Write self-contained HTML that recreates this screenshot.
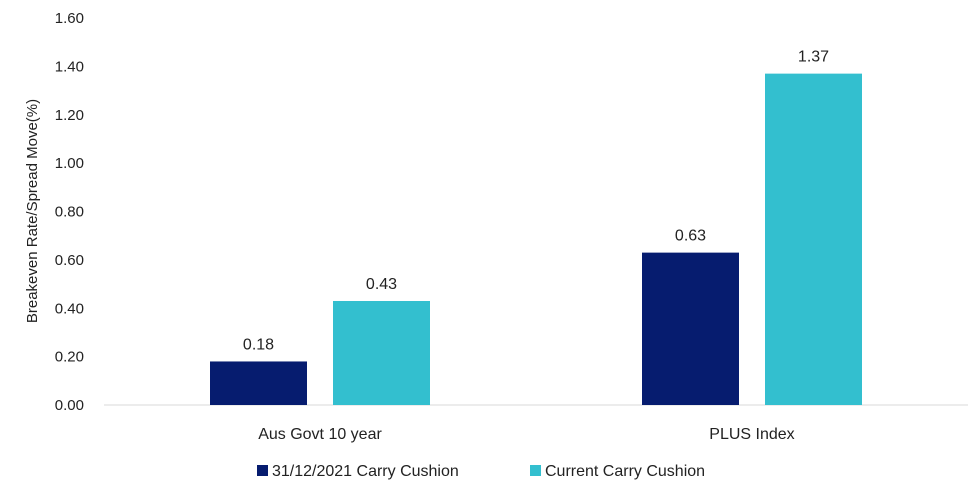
<!DOCTYPE html>
<html><head><meta charset="utf-8"><style>
body{margin:0;background:#fff;}
svg{display:block;font-family:"Liberation Sans",sans-serif;}
</style></head><body>
<svg id="chart" width="979" height="494">
<g id="grid"></g><g id="bars"></g><g id="labels"></g>
<text transform="translate(37,211) rotate(-90)" text-anchor="middle" font-size="15" fill="#222">Breakeven Rate/Spread Move(%)</text>
<g>
<rect x="257" y="465" width="11" height="11" fill="#061c6f"/>
<text x="272" y="476" font-size="16" fill="#222">31/12/2021 Carry Cushion</text>
<rect x="530" y="465" width="11" height="11" fill="#33bfcf"/>
<text x="545" y="476" font-size="16" fill="#222">Current Carry Cushion</text>
</g>
</svg>
<script>
const categories = ["Aus Govt 10 year", "PLUS Index"];
const series2021 = [0.18, 0.63];
const seriesCurrent = [0.43, 1.37];
const yTicks = ["0.00","0.20","0.40","0.60","0.80","1.00","1.20","1.40","1.60"];

const NS="http://www.w3.org/2000/svg";
const x0=104, x1=968, yBase=405, yTop=18, yMax=1.6;
const y = v => yBase - v/yMax*(yBase-yTop);
const band = (x1-x0)/categories.length;
const cx = i => x0 + band*(i+0.5);
function mk(tag, attrs, parent){const e=document.createElementNS(NS,tag);for(const k in attrs)e.setAttribute(k,attrs[k]);document.getElementById(parent).appendChild(e);return e;}

yTicks.forEach((t)=>{
  const el=mk("text",{x:84,y:y(parseFloat(t))+5,"text-anchor":"end","font-size":"15",fill:"#222"},"labels");
  
  
  el.textContent=t;
});
const ax=mk("line",{x1:x0,x2:x1,y1:yBase,y2:yBase,stroke:"#d9d9d9","stroke-width":"1"},"grid");



const bw=97, gap=26;
categories.forEach((c,i)=>{
  const lab=mk("text",{x:cx(i),y:439,"text-anchor":"middle","font-size":"16",fill:"#222"},"labels");
  
  
  lab.textContent=c;
  [[series2021,"#061c6f",-1],[seriesCurrent,"#33bfcf",1]].forEach(([s,col,side])=>{
    const left = side<0 ? cx(i)-gap/2-bw : cx(i)+gap/2;
    const r=mk("rect",{x:left,y:y(s[i]),width:bw,height:yBase-y(s[i]),fill:col},"bars");
    
    
    const v=mk("text",{x:left+bw/2,y:y(s[i])-12,"text-anchor":"middle","font-size":"16",fill:"#222"},"labels");
    
    
    v.textContent=s[i].toFixed(2);
  });
});
</script>
</body></html>
